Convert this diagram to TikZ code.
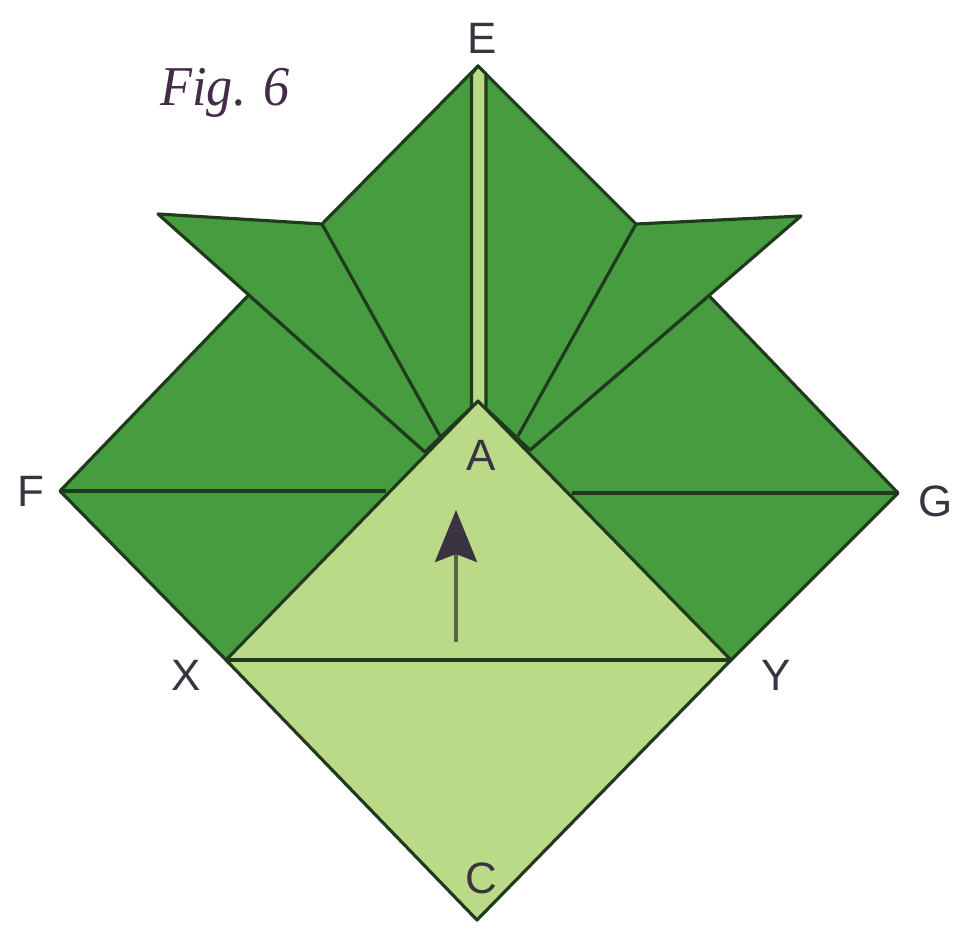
\documentclass[tikz,border=0pt]{standalone}
\usepackage{fontspec}
\setmainfont{Liberation Sans}
\newfontfamily\figfont{Liberation Serif}
\usepackage{tikz}
\usetikzlibrary{arrows.meta,calc}
\definecolor{leafdark}{HTML}{479C40}
\definecolor{leaflight}{HTML}{BBDA88}
\definecolor{foldline}{HTML}{1F3A1C}
\definecolor{labelink}{HTML}{3A3440}
\definecolor{arrowstem}{HTML}{55654A}

\begin{document}
\begin{tikzpicture}[
    x=0.02cm,
    y=-0.02cm,
    darkflap/.style={
        draw=foldline,
        fill=leafdark,
        line width=1.8pt,
        line join=round,
    },
    lightflap/.style={
        draw=foldline,
        fill=leaflight,
        line width=1.8pt,
        line join=round,
    },
    foldcrease/.style={
        draw=foldline,
        line width=1.8pt,
    },
    pointlabel/.style={
        font=\fontsize{25}{25}\selectfont,
        text=labelink,
        inner sep=0pt,
    },
    liftarrow/.style={
        -{Stealth[length=1.04cm,width=0.84cm,inset=0.16cm,color=labelink]},
        draw=arrowstem,
        line width=2.4pt,
    },
]
\useasboundingbox (0,0) rectangle (959,934);

\coordinate (e) at (478,66);
\coordinate (f) at (60,491);
\coordinate (g) at (898,493);
\coordinate (c) at (477,920);
\coordinate (x) at (226,660);
\coordinate (y) at (731,660);
\coordinate (a) at (478,401);
\coordinate (wingl) at (158,214);
\coordinate (wingr) at (801,216);
\coordinate (shoulderl) at (322,224);
\coordinate (shoulderr) at (636,224);
\coordinate (rootl) at (425,452);
\coordinate (rootr) at (530,450);
\coordinate (notchl) at ($(wingl)!0.34!(rootl)$);
\coordinate (notchr) at ($(wingr)!0.34!(rootr)$);
\coordinate (creasel) at (440,436);
\coordinate (creaser) at (518,436);
\coordinate (midl) at (386,491);
\coordinate (midr) at (572,493);
\coordinate (stripl) at (471.5,74);
\coordinate (stripr) at (486,74);
\coordinate (stripbl) at (471.5,407);
\coordinate (stripbr) at (486,407);
\coordinate (arrowfoot) at (456,642);
\coordinate (arrowhead) at (456,510);

% lower body and the upper flaps
\draw[darkflap] (f) -- (notchl) -- (rootl) -- (a) -- (rootr) -- (notchr) -- (g) -- (y) -- (x) -- cycle;
\draw[darkflap] (wingl) -- (shoulderl) -- (e) -- (shoulderr) -- (wingr) -- (rootr) -- (a) -- (rootl) -- cycle;
\draw[foldcrease] (shoulderl) -- (creasel);
\draw[foldcrease] (shoulderr) -- (creaser);
\draw[foldcrease] (f) -- (midl);
\draw[foldcrease] (g) -- (midr);

% centre gap
\draw[lightflap] (stripbl) -- (stripl) -- (e) -- (stripr) -- (stripbr);

% front square
\draw[lightflap] (a) -- (y) -- (c) -- (x) -- cycle;
\draw[foldcrease] (x) -- (y);
\draw[liftarrow] (arrowfoot) -- (arrowhead);

\node[pointlabel] (labele) at (482,38) {E};
\node[pointlabel] (labelf) at (31,491) {F};
\node[pointlabel] (labelg) at (936,501) {G};
\node[pointlabel] (labela) at (481,455) {A};
\node[pointlabel] (labelx) at (186,675) {X};
\node[pointlabel] (labely) at (776,675) {Y};
\node[pointlabel] (labelc) at (481,878) {C};
\node[font=\figfont\itshape\fontsize{32}{32}\selectfont,text=labelink!85!violet,inner sep=0pt,xscale=0.93] (figlabel) at (225,93) {Fig. 6};
\end{tikzpicture}
\end{document}
